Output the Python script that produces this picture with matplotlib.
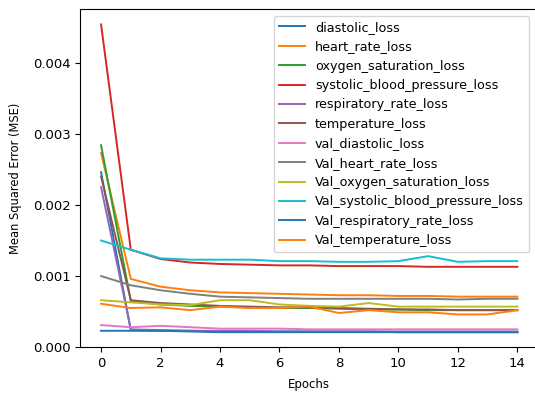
import matplotlib
matplotlib.use("Agg")
import matplotlib.pyplot as plt
import numpy as np

epochs = list(range(15))

# training losses
diastolic_loss = [0.00246, 0.00024, 0.00023, 0.00023, 0.00022, 0.00022, 0.00022, 0.00022, 0.00022, 0.00022, 0.00021, 0.00021, 0.00021, 0.00021, 0.00021]
heart_rate_loss = [0.00273, 0.00096, 0.00085, 0.00080, 0.00077, 0.00076, 0.00075, 0.00074, 0.00073, 0.00073, 0.00072, 0.00072, 0.00071, 0.00071, 0.00071]
oxygen_saturation_loss = [0.00284, 0.00065, 0.00060, 0.00058, 0.00057, 0.00056, 0.00055, 0.00055, 0.00054, 0.00053, 0.00053, 0.00052, 0.00052, 0.00052, 0.00052]
systolic_blood_pressure_loss = [0.00454, 0.00137, 0.00124, 0.00119, 0.00117, 0.00116, 0.00115, 0.00115, 0.00114, 0.00114, 0.00114, 0.00113, 0.00113, 0.00113, 0.00113]
respiratory_rate_loss = [0.00225, 0.00025, 0.00024, 0.00023, 0.00023, 0.00023, 0.00022, 0.00022, 0.00022, 0.00022, 0.00022, 0.00022, 0.00022, 0.00022, 0.00022]
temperature_loss = [0.00240, 0.00066, 0.00062, 0.00060, 0.00058, 0.00057, 0.00056, 0.00056, 0.00055, 0.00054, 0.00053, 0.00053, 0.00052, 0.00052, 0.00052]

# validation losses
val_diastolic_loss = [0.00031, 0.00028, 0.00030, 0.00028, 0.00026, 0.00026, 0.00026, 0.00025, 0.00025, 0.00025, 0.00025, 0.00025, 0.00025, 0.00025, 0.00025]
val_heart_rate_loss = [0.00100, 0.00087, 0.00080, 0.00075, 0.00071, 0.00070, 0.00069, 0.00068, 0.00068, 0.00068, 0.00068, 0.00068, 0.00067, 0.00068, 0.00068]
val_oxygen_saturation_loss = [0.00066, 0.00063, 0.00060, 0.00059, 0.00066, 0.00066, 0.00060, 0.00058, 0.00057, 0.00062, 0.00057, 0.00057, 0.00057, 0.00057, 0.00057]
val_systolic_blood_pressure_loss = [0.00150, 0.00137, 0.00125, 0.00123, 0.00123, 0.00123, 0.00121, 0.00121, 0.00120, 0.00120, 0.00121, 0.00128, 0.00120, 0.00121, 0.00121]
val_respiratory_rate_loss = [0.00023, 0.00023, 0.00023, 0.00022, 0.00021, 0.00021, 0.00021, 0.00021, 0.00021, 0.00021, 0.00021, 0.00021, 0.00021, 0.00021, 0.00021]
val_temperature_loss = [0.00061, 0.00055, 0.00056, 0.00052, 0.00057, 0.00055, 0.00055, 0.00057, 0.00048, 0.00052, 0.00049, 0.00049, 0.00046, 0.00046, 0.00052]

series = [
    ("diastolic_loss", diastolic_loss),
    ("heart_rate_loss", heart_rate_loss),
    ("oxygen_saturation_loss", oxygen_saturation_loss),
    ("systolic_blood_pressure_loss", systolic_blood_pressure_loss),
    ("respiratory_rate_loss", respiratory_rate_loss),
    ("temperature_loss", temperature_loss),
    ("val_diastolic_loss", val_diastolic_loss),
    ("Val_heart_rate_loss", val_heart_rate_loss),
    ("Val_oxygen_saturation_loss", val_oxygen_saturation_loss),
    ("Val_systolic_blood_pressure_loss", val_systolic_blood_pressure_loss),
    ("Val_respiratory_rate_loss", val_respiratory_rate_loss),
    ("Val_temperature_loss", val_temperature_loss),
]

fig = plt.figure(figsize=(5.35, 3.94), dpi=100)
# right edge of the axes sits just past the image edge, like the cropped original
ax = fig.add_axes([0.15, 0.119, 0.856, 0.858])
for name, vals in series:
    ax.plot(epochs, vals, label=name, linewidth=1.4)

ax.set_xlabel("Epochs", fontsize=8.5, labelpad=6)
ax.set_ylabel("Mean Squared Error (MSE)", fontsize=8.3, labelpad=8)
ax.set_ylim(0, None)
ax.set_xticks([0, 2, 4, 6, 8, 10, 12, 14])
ax.tick_params(labelsize=9.5)
ax.legend(loc="upper right", fontsize=9.2, bbox_to_anchor=(0.994, 0.999))

fig.savefig("out.png", dpi=100)
